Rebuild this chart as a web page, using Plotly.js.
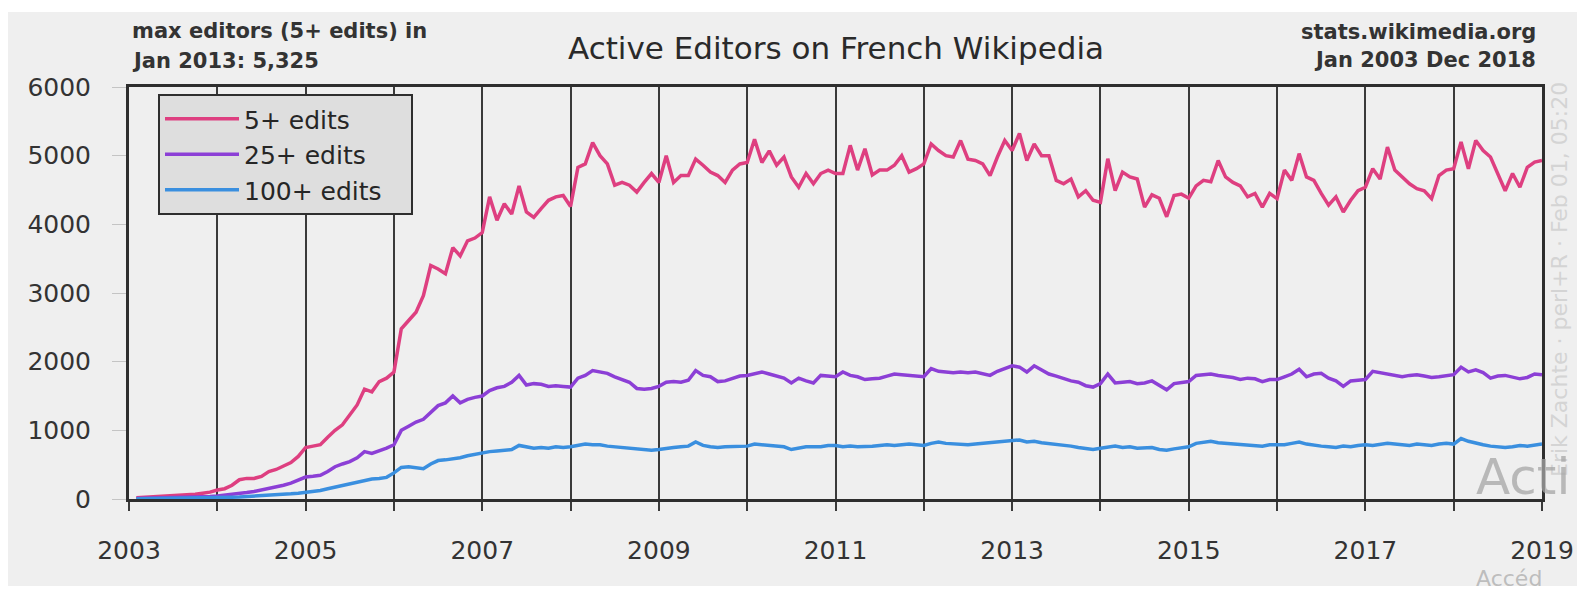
<!DOCTYPE html>
<html>
<head>
<meta charset="utf-8">
<script src="https://cdn.plot.ly/plotly-3.0.1.min.js"></script>
<style>
  html, body { margin: 0; padding: 0; background: #ffffff; }
  #chart { width: 1577px; height: 593px; }
</style>
</head>
<body>
<div id="chart"></div>
<script>
// ---- data (monthly, Jan 2003 .. Dec 2018) ----
const firstYear = 2003;
const lastYear = 2018;
const seriesNames = ['5+ edits', '25+ edits', '100+ edits'];
const seriesColors = ['#de3f80', '#8c3fd6', '#3a8fdf'];

const edits5 = [
  20,25,30,35,40,45,55,60,70,85,100,130,                 // 2003
  150,200,280,300,300,330,400,430,480,530,620,750,       // 2004
  770,790,900,1000,1080,1220,1370,1600,1560,1710,1760,1850, // 2005
  2480,2600,2720,2960,3400,3350,3280,3660,3540,3760,3800,3880, // 2006
  4400,4060,4300,4150,4560,4180,4100,4230,4350,4400,4420,4260, // 2007
  4830,4880,5190,5000,4880,4570,4610,4570,4470,4610,4740,4610, // 2008
  5000,4610,4710,4710,4950,4860,4760,4710,4610,4790,4880,4900, // 2009
  5240,4900,5070,4860,4980,4690,4540,4740,4590,4740,4790,4740, // 2010
  4740,5150,4790,5100,4720,4790,4790,4860,5000,4760,4810,4880, // 2011
  5170,5075,5000,4980,5220,4950,4930,4880,4710,4980,5220,5075, // 2012
  5325,4930,5170,5000,5000,4640,4590,4660,4400,4490,4350,4320, // 2013
  4955,4490,4760,4690,4660,4250,4430,4380,4110,4420,4440,4380, // 2014
  4560,4640,4620,4930,4690,4610,4560,4400,4450,4250,4450,4375, // 2015
  4790,4640,5030,4690,4640,4450,4280,4400,4180,4350,4490,4540, // 2016
  4810,4660,5125,4790,4690,4590,4520,4490,4375,4710,4790,4810, // 2017
  5200,4810,5220,5075,4980,4740,4490,4740,4540,4830,4906,4930  // 2018
];

const edits25 = [
  8,10,12,14,16,18,20,24,28,32,38,45,                    // 2003
  55,65,80,95,110,130,150,175,200,230,270,320,           // 2004
  330,345,400,470,510,545,600,690,665,700,740,790,       // 2005
  1000,1060,1120,1160,1260,1360,1400,1500,1400,1450,1480,1500, // 2006
  1580,1620,1640,1700,1800,1660,1680,1670,1640,1650,1640,1630, // 2007
  1760,1800,1870,1850,1830,1780,1740,1700,1610,1600,1610,1640, // 2008
  1700,1710,1700,1730,1870,1800,1780,1710,1720,1750,1790,1800, // 2009
  1830,1850,1820,1790,1760,1690,1760,1720,1690,1800,1790,1780, // 2010
  1850,1800,1780,1740,1750,1760,1790,1820,1810,1800,1790,1780, // 2011
  1900,1860,1850,1840,1850,1840,1850,1820,1800,1860,1900,1940, // 2012
  1920,1850,1940,1880,1820,1790,1750,1720,1700,1650,1630,1680, // 2013
  1820,1690,1700,1710,1680,1690,1720,1650,1590,1680,1700,1710, // 2014
  1800,1810,1820,1800,1790,1770,1740,1760,1750,1710,1740,1740, // 2015
  1780,1820,1890,1780,1820,1830,1760,1720,1640,1720,1730,1740, // 2016
  1860,1840,1820,1800,1780,1800,1810,1790,1770,1780,1800,1810, // 2017
  1920,1850,1880,1840,1760,1790,1800,1780,1750,1770,1820,1810  // 2018
];

const edits100 = [
  3,4,5,6,7,8,9,10,12,14,16,20,                          // 2003
  22,26,30,35,40,46,52,60,68,76,85,95,                   // 2004
  110,125,150,175,195,220,245,265,290,300,315,380,       // 2005
  460,470,450,440,510,560,570,580,600,630,650,680,       // 2006
  690,700,710,720,780,760,740,750,740,760,750,760,       // 2007
  780,800,790,790,770,760,750,740,720,710,710,720,       // 2008
  740,750,760,770,830,780,760,750,760,760,770,770,       // 2009
  800,790,790,780,760,720,740,760,760,760,780,780,       // 2010
  760,770,760,760,770,780,790,780,790,800,790,780,       // 2011
  810,830,810,800,800,790,800,810,810,820,830,850,       // 2012
  860,830,840,820,810,790,780,770,750,730,720,740,       // 2013
  760,770,750,760,740,740,750,720,710,730,740,760,       // 2014
  810,830,840,820,810,800,790,790,780,770,790,790,       // 2015
  790,810,830,800,780,770,760,750,770,760,780,790,       // 2016
  780,790,810,800,790,780,800,790,780,800,810,800,       // 2017
  880,840,810,790,770,760,750,760,780,770,790,800        // 2018
];

const xTickYears = [2003, 2005, 2007, 2009, 2011, 2013, 2015, 2017, 2019];
const yTicks = [0, 1000, 2000, 3000, 4000, 5000, 6000];

// month-end positions on a decimal-year axis (Jan 2003 -> 2003 + 1/12)
const months = [];
for (let y = firstYear; y <= lastYear; y++) {
  for (let m = 1; m <= 12; m++) months.push(y + m / 12);
}

// legend labels get a little trailing room so the legend box matches the original's padding
const legendPad = '\u00a0\u00a0\u00a0';

const seriesValues = [edits5, edits25, edits100];
const traces = seriesValues.map((vals, i) => ({
  type: 'scatter',
  mode: 'lines',
  name: seriesNames[i] + legendPad,
  x: months,
  y: vals,
  line: { color: seriesColors[i], width: 3.5 },
  hovertemplate: seriesNames[i] + ': %{y}<extra></extra>'
}));

// plot area in px: left 129, right 1542, top 87, bottom 499
const L = 129, R = 1542, T = 87, B = 499;
const px = v => (v - L) / (R - L);
const py = v => (B - v) / (B - T);

const layout = {
  width: 1577,
  height: 593,
  margin: { l: L, r: 1577 - R, t: T, b: 593 - B, pad: 0 },
  paper_bgcolor: '#ffffff',
  plot_bgcolor: '#efefef',
  font: { family: 'DejaVu Sans', color: '#333333' },
  showlegend: true,
  title: {
    text: 'Active Editors on French Wikipedia',
    font: { family: 'DejaVu Sans', size: 31, color: '#2a2a2a' },
    xref: 'paper', x: px(836), xanchor: 'center',
    yref: 'container', y: 1 - 48 / 593, yanchor: 'middle'
  },
  xaxis: {
    range: [2003, 2019],
    tickmode: 'array',
    tickvals: xTickYears,
    ticktext: xTickYears.map(String),
    showgrid: true, gridcolor: '#3a3a3a', gridwidth: 2,
    ticks: 'outside', ticklen: 9, tickwidth: 2, tickcolor: '#3a3a3a',
    showline: true, mirror: true, linecolor: '#2e2e2e', linewidth: 3,
    zeroline: false,
    tickfont: { family: 'DejaVu Sans', size: 25, color: '#333333' },
    ticklabelstandoff: 18,
    minor: { dtick: 1, tick0: 2003, showgrid: true, gridcolor: '#3a3a3a', gridwidth: 2,
             ticks: 'outside', ticklen: 9, tickwidth: 2, tickcolor: '#3a3a3a' },
    fixedrange: true
  },
  yaxis: {
    range: [0, 6000],
    tickmode: 'array',
    tickvals: yTicks,
    ticktext: yTicks.map(String),
    showgrid: false,
    ticks: 'outside', ticklen: 14, tickwidth: 1, tickcolor: '#c4c4c4',
    showline: true, mirror: true, linecolor: '#2e2e2e', linewidth: 3,
    zeroline: false,
    tickfont: { family: 'DejaVu Sans', size: 25, color: '#333333' },
    ticklabelstandoff: 16,
    fixedrange: true
  },
  legend: {
    x: px(158), xanchor: 'left',
    y: py(94), yanchor: 'top',
    bgcolor: '#dedede', bordercolor: '#2e2e2e', borderwidth: 2,
    font: { family: 'DejaVu Sans', size: 25, color: '#262626' },
    itemwidth: 74,
    tracegroupgap: 0
  },
  shapes: [
    { type: 'rect', xref: 'paper', yref: 'paper', layer: 'below',
      x0: px(8), x1: px(1577), y0: py(586), y1: py(12),
      fillcolor: '#efefef', line: { width: 0 } }
  ],
  annotations: [
    { text: 'max editors (5+ edits) in', xref: 'paper', yref: 'paper',
      x: px(130), y: py(31), xanchor: 'left', yanchor: 'middle', showarrow: false,
      font: { family: 'DejaVu Sans', size: 21, weight: 'bold', color: '#333333' } },
    { text: 'Jan 2013: 5,325', xref: 'paper', yref: 'paper',
      x: px(130), y: py(61), xanchor: 'left', yanchor: 'middle', showarrow: false,
      font: { family: 'DejaVu Sans', size: 21, weight: 'bold', color: '#333333' } },
    { text: 'stats.wikimedia.org', xref: 'paper', yref: 'paper',
      x: px(1538), y: py(32), xanchor: 'right', yanchor: 'middle', showarrow: false,
      font: { family: 'DejaVu Sans', size: 21, weight: 'bold', color: '#333333' } },
    { text: 'Jan 2003 Dec 2018', xref: 'paper', yref: 'paper',
      x: px(1538), y: py(60), xanchor: 'right', yanchor: 'middle', showarrow: false,
      font: { family: 'DejaVu Sans', size: 21, weight: 'bold', color: '#333333' } },
    { text: 'Erik Zachte · perl+R · Feb 01, 05:20', xref: 'paper', yref: 'paper',
      x: px(1559), y: py(280), xanchor: 'center', yanchor: 'middle', showarrow: false,
      textangle: -90,
      font: { family: 'DejaVu Sans', size: 22, color: '#d4d4d4' } },
    { text: 'Acti', xref: 'paper', yref: 'paper',
      x: px(1474), y: py(477), xanchor: 'left', yanchor: 'middle', showarrow: false,
      font: { family: 'DejaVu Sans', size: 50, color: 'rgba(165,165,165,0.75)' } },
    { text: 'Accéd', xref: 'paper', yref: 'paper',
      x: px(1474), y: py(578), xanchor: 'left', yanchor: 'middle', showarrow: false,
      font: { family: 'DejaVu Sans', size: 22, color: 'rgba(175,175,175,0.8)' } }
  ]
};

Plotly.newPlot('chart', traces, layout, { displayModeBar: false, staticPlot: true });
</script>
</body>
</html>
